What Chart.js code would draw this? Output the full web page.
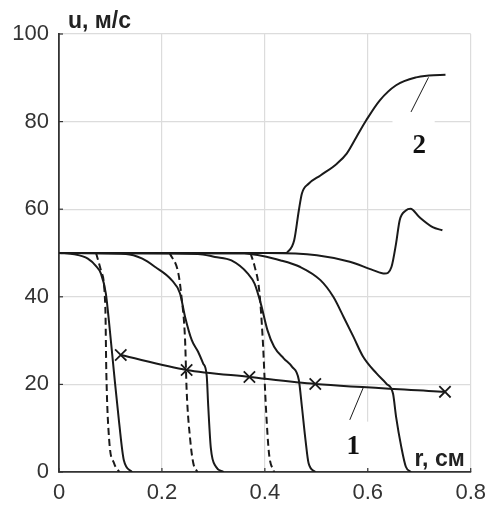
<!DOCTYPE html>
<html>
<head>
<meta charset="utf-8">
<script src="https://cdn.jsdelivr.net/npm/chart.js@4/dist/chart.umd.min.js"></script>
<style>
  html, body { margin: 0; padding: 0; background: #fff; }
  #wrap { width: 494px; height: 508px; }
</style>
</head>
<body>
<div id="wrap"><canvas id="myChart" width="494" height="508"></canvas></div>
<script>
// solid velocity profiles, [r, u]
const profile1 = [[0, 50], [0.03, 49.7], [0.056, 48.7], [0.072, 47], [0.0815, 45.3], [0.091, 40.8], [0.0975, 33.9], [0.107, 22.5], [0.117, 11.1], [0.126, 2.7], [0.142, 0]];
const profile2 = [[0, 50], [0.13, 49.8], [0.162, 48.7], [0.187, 46.8], [0.219, 43.8], [0.235, 40.8], [0.245, 35.4], [0.258, 30.1], [0.27, 27.5], [0.28, 24.8], [0.287, 22], [0.29, 15], [0.295, 5.5], [0.305, 1.2], [0.32, 0]];
const profile3 = [[0, 50], [0.27, 49.8], [0.303, 49.1], [0.335, 48.3], [0.367, 45.3], [0.38, 43], [0.392, 38.5], [0.405, 32.4], [0.418, 28.6], [0.437, 25.9], [0.453, 24], [0.466, 21], [0.472, 14.9], [0.479, 7.3], [0.485, 2], [0.498, 0]];
const profile4 = [[0, 50], [0.36, 49.9], [0.431, 48.3], [0.469, 46.8], [0.508, 43.8], [0.533, 40], [0.553, 35.4], [0.572, 30.9], [0.591, 26.3], [0.617, 22.5], [0.636, 20.2], [0.649, 17.9], [0.655, 12.6], [0.665, 5.8], [0.674, 1.2], [0.684, 0]];
const profile5 = [[0, 50], [0.405, 50], [0.501, 49.5], [0.565, 48], [0.61, 46.1], [0.633, 45.3], [0.646, 46.8], [0.655, 52.2], [0.662, 57.5], [0.674, 59.7], [0.683, 60.1], [0.7, 58.2], [0.726, 55.9], [0.745, 55.2]];
const profile6 = [[0, 50], [0.44, 50], [0.444, 50.2], [0.457, 52.9], [0.466, 59.7], [0.472, 63.6], [0.485, 65.8], [0.508, 67.7], [0.54, 70.4], [0.559, 72.7], [0.578, 76.5], [0.597, 80.3], [0.623, 84.8], [0.655, 88.3], [0.694, 90.1], [0.719, 90.5], [0.751, 90.7]];

// dashed profiles
const dashed1 = [[0.072, 50], [0.0815, 46], [0.09, 37.7], [0.092, 22.5], [0.0975, 7.3], [0.107, 2], [0.117, 0]];
const dashed2 = [[0.215, 50], [0.232, 45.3], [0.238, 40], [0.245, 30.1], [0.248, 18.7], [0.255, 7.3], [0.261, 2], [0.269, 0]];
const dashed3 = [[0.372, 50], [0.38, 47], [0.389, 41.5], [0.396, 30.1], [0.402, 14.9], [0.408, 4.3], [0.418, 0]];

// front line with cross markers (curve 1)
const frontR = [0.12, 0.248, 0.37, 0.498, 0.75];
const frontU = [26.7, 23.3, 21.7, 20.1, 18.3];

const xTicks = [0, 0.2, 0.4, 0.6, 0.8];
const yTicks = [0, 20, 40, 60, 80, 100];

const yTitle = "u, м/с";
const xTitle = "r, см";

// curve labels: text, label position, leader from, leader to (data units)
const curveLabels = [
    { text: "2", at: [0.7, 74.6], from: [0.684, 82.2], to: [0.718, 90.1], box: [0.648, 0.73, 70, 82] },
    { text: "1", at: [0.572, 5.9], from: [0.565, 11.9], to: [0.591, 19.2], box: [0.548, 0.608, 0.8, 11.5] },
];

const ink = "#1a1a1a";

function toXY(arr) {
    return arr.map((p) => ({ x: p[0], y: p[1] }));
}

function solid(arr) {
    return {
        data: toXY(arr),
        borderColor: ink,
        borderWidth: 2,
        pointRadius: 0,
        cubicInterpolationMode: 'monotone',
    };
}

function dashed(arr) {
    return {
        data: toXY(arr),
        borderColor: ink,
        borderWidth: 2,
        borderDash: [7, 4],
        pointRadius: 0,
        cubicInterpolationMode: 'monotone',
    };
}

const datasets = [
    solid(profile1), solid(profile2), solid(profile3),
    solid(profile4), solid(profile5), solid(profile6),
    dashed(dashed1), dashed(dashed2), dashed(dashed3),
    {
        data: frontR.map((r, i) => ({ x: r, y: frontU[i] })),
        borderColor: ink,
        borderWidth: 2,
        pointStyle: 'crossRot',
        pointRadius: 8,
        pointBorderWidth: 1.8,
        pointBorderColor: ink,
        tension: 0.3,
    },
];

const labelBoxes = {
    id: 'labelBoxes',
    beforeDatasetsDraw(chart) {
        const c = chart.ctx;
        const xs = chart.scales.x, ys = chart.scales.y;
        c.save();
        c.fillStyle = "#fff";
        curveLabels.forEach((l) => {
            const x0 = xs.getPixelForValue(l.box[0]), x1 = xs.getPixelForValue(l.box[1]);
            const y0 = ys.getPixelForValue(l.box[3]), y1 = ys.getPixelForValue(l.box[2]);
            c.fillRect(x0, y0, x1 - x0, y1 - y0);
        });
        c.restore();
    },
    afterDraw(chart) {
        const c = chart.ctx;
        const xs = chart.scales.x, ys = chart.scales.y;
        const area = chart.chartArea;
        c.save();

        // small inward tick marks
        c.strokeStyle = "#333";
        c.lineWidth = 1.2;
        xTicks.forEach((t) => {
            const px = xs.getPixelForValue(t);
            c.beginPath(); c.moveTo(px, area.bottom); c.lineTo(px, area.bottom - 4); c.stroke();
        });
        yTicks.forEach((t) => {
            const py = ys.getPixelForValue(t);
            c.beginPath(); c.moveTo(area.left, py); c.lineTo(area.left + 4, py); c.stroke();
        });

        // axis titles
        c.fillStyle = "#222";
        c.font = "bold 23px 'Liberation Sans', Arial, sans-serif";
        c.textBaseline = "alphabetic";
        c.textAlign = "left";
        c.fillText(yTitle, area.left + 9, area.top - 6);
        c.textAlign = "right";
        c.fillText(xTitle, area.right - 6, area.bottom - 6);

        // curve labels with leaders
        c.strokeStyle = ink;
        c.lineWidth = 1;
        c.fillStyle = "#111";
        c.font = "bold 27px 'Liberation Serif', 'Times New Roman', serif";
        c.textAlign = "center";
        c.textBaseline = "middle";
        curveLabels.forEach((l) => {
            c.beginPath();
            c.moveTo(xs.getPixelForValue(l.from[0]), ys.getPixelForValue(l.from[1]));
            c.lineTo(xs.getPixelForValue(l.to[0]), ys.getPixelForValue(l.to[1]));
            c.stroke();
            c.fillText(l.text, xs.getPixelForValue(l.at[0]), ys.getPixelForValue(l.at[1]) + 1);
        });
        c.restore();
    },
};

const ctx = document.getElementById('myChart');

const chart = new Chart(ctx, {
    type: 'line',
    data: { datasets: datasets },
    options: {
        responsive: false,
        animation: false,
        layout: { padding: { top: 34, right: 18, left: 0, bottom: 0 } },
        plugins: { legend: { display: false }, tooltip: { enabled: false } },
        scales: {
            x: {
                type: 'linear',
                min: 0,
                max: 0.8,
                afterFit: (s) => { s.height = 36; },
                afterBuildTicks: (s) => { s.ticks = xTicks.map((v) => ({ value: v })); },
                grid: { color: "#dcdcdc", lineWidth: 1.2, drawTicks: false },
                border: { display: true, color: "#333", width: 1.8 },
                ticks: {
                    color: "#333",
                    padding: 8,
                    font: { family: "'Liberation Sans', Arial, sans-serif", size: 22 },
                    callback: (v) => String(v),
                },
            },
            y: {
                type: 'linear',
                min: 0,
                max: 100,
                afterFit: (s) => { s.width = 59; },
                afterBuildTicks: (s) => { s.ticks = yTicks.map((v) => ({ value: v })); },
                grid: { color: "#dcdcdc", lineWidth: 1.2, drawTicks: false },
                border: { display: true, color: "#333", width: 1.8 },
                ticks: {
                    color: "#333",
                    padding: 10,
                    font: { family: "'Liberation Sans', Arial, sans-serif", size: 22 },
                },
            },
        },
    },
    plugins: [labelBoxes],
});
</script>
</body>
</html>
